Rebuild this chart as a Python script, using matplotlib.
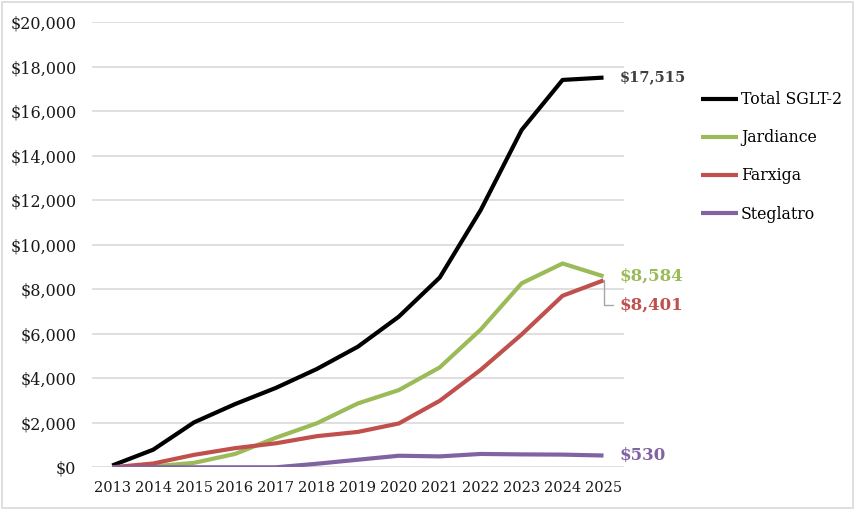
import matplotlib
matplotlib.use("Agg")
import matplotlib.pyplot as plt
from matplotlib.patches import Rectangle

years = ["2013", "2014", "2015", "2016", "2017", "2018", "2019",
         "2020", "2021", "2022", "2023", "2024", "2025"]
total = [80, 790, 2020, 2840, 3570, 4420, 5420, 6770, 8530, 11560, 15160, 17410, 17515]
jardiance = [0, 40, 200, 600, 1330, 1980, 2870, 3470, 4490, 6190, 8270, 9160, 8584]
farxiga = [0, 170, 560, 860, 1080, 1400, 1590, 1970, 2990, 4380, 5970, 7710, 8401]
steglatro = [0, 0, 0, 0, 0, 160, 340, 520, 490, 600, 580, 570, 530]

series_names = ["Total SGLT-2", "Jardiance", "Farxiga", "Steglatro"]
series_values = [total, jardiance, farxiga, steglatro]
colors = ["#000000", "#9BBB59", "#C0504D", "#8064A2"]
label_colors = ["#404040", "#9BBB59", "#C0504D", "#8064A2"]
end_labels = ["$17,515", "$8,584", "$8,401", "$530"]
yticks = list(range(0, 20001, 2000))

SERIF = "DejaVu Serif"
plt.rcParams["font.family"] = [SERIF]
plt.rcParams["font.serif"] = [SERIF]

fig = plt.figure(figsize=(8.6, 5.13), dpi=100)
ax = fig.add_axes([91.7 / 860, 1 - 467.3 / 513, (624 - 91.7) / 860, (467.3 - 22.3) / 513])

x = list(range(len(years)))
for name, vals, c in zip(series_names, series_values, colors):
    ax.plot(x, vals, color=c, lw=3.0, label=name, solid_capstyle="butt", zorder=3)

ax.set_xlim(-0.5, len(years) - 0.5)
ax.set_ylim(0, 20000)
ax.set_xticks(x)
ax.set_xticklabels(years, fontsize=10.5)
ax.set_yticks(yticks)
ax.set_yticklabels([f"${v:,}" for v in yticks], fontsize=11.5)
ax.tick_params(axis="both", length=0, colors="#1a1a1a")
ax.tick_params(axis="y", pad=11)
ax.tick_params(axis="x", pad=10)
ax.grid(axis="y", color="#D9D9D9", lw=1.2, zorder=0)
ax.set_axisbelow(True)
for s in ax.spines.values():
    s.set_visible(False)

last = len(years) - 1
# end-of-line labels
ax.annotate(end_labels[0], xy=(last, total[-1]), xytext=(11.5, 0), textcoords="offset points",
            va="center", ha="left", fontsize=10.5, fontweight="bold", color=label_colors[0])
ax.annotate(end_labels[1], xy=(last, jardiance[-1]), xytext=(11.5, 0), textcoords="offset points",
            va="center", ha="left", fontsize=12, fontweight="bold", color=label_colors[1])
ax.annotate(end_labels[2], xy=(last, farxiga[-1]), xytext=(11.5, -18), textcoords="offset points",
            va="center", ha="left", fontsize=12, fontweight="bold", color=label_colors[2],
            arrowprops=dict(arrowstyle="-", color="#A6A6A6", lw=1,
                            connectionstyle="angle,angleA=0,angleB=90,rad=0",
                            shrinkA=3, shrinkB=0, relpos=(0, 0.5)))
ax.annotate(end_labels[3], xy=(last, steglatro[-1]), xytext=(11.5, 0), textcoords="offset points",
            va="center", ha="left", fontsize=12, fontweight="bold", color=label_colors[3])

leg = fig.legend(loc="upper left", bbox_to_anchor=(701 / 860, 1 - 91 / 513), frameon=False,
                 prop=dict(family=SERIF, size=11.3), handlelength=2.35, handletextpad=0.2,
                 labelspacing=1.35, borderaxespad=0, borderpad=0)

fig.patches.append(Rectangle((2 / 860, 1 - 508 / 513), 851 / 860, 506 / 513, transform=fig.transFigure,
                             fill=False, edgecolor="#D9D9D9", lw=1.2))

fig.savefig("out.png", dpi=100)
